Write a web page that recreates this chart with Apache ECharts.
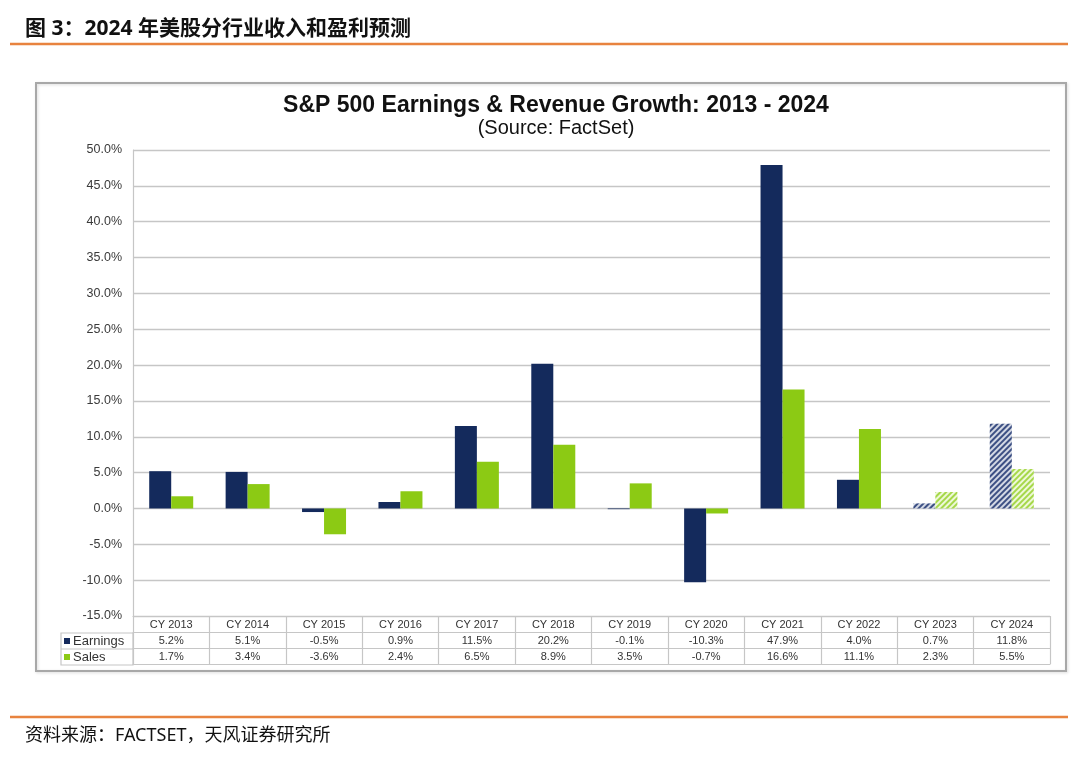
<!DOCTYPE html>
<html>
<head>
<meta charset="utf-8">
<script src="https://cdn.jsdelivr.net/npm/echarts@6/dist/echarts.min.js"></script>
<style>
html,body{margin:0;padding:0;background:#fff;}
#c{width:1080px;height:758px;}
</style>
</head>
<body>
<div id="c"></div>
<script>
const categories = ['CY 2013','CY 2014','CY 2015','CY 2016','CY 2017','CY 2018','CY 2019','CY 2020','CY 2021','CY 2022','CY 2023','CY 2024'];
const earnings = [5.2, 5.1, -0.5, 0.9, 11.5, 20.2, -0.1, -10.3, 47.9, 4.0, 0.7, 11.8];
const sales = [1.7, 3.4, -3.6, 2.4, 6.5, 8.9, 3.5, -0.7, 16.6, 11.1, 2.3, 5.5];
const estimateFrom = 10; // CY 2023 and CY 2024 are estimates (hatched)
const yTicks = {min: -15, max: 50, interval: 5};

const NAVY = '#142a5c';
const GREEN = '#8cca14';
const GRID = '#c6c6c6';
const FONT = '"Liberation Sans", Arial, sans-serif';
const CJK = '"Noto Sans", "Noto Sans CJK SC", sans-serif';

function hatched(base, stripe) {
  return {
    color: base,
    decal: {symbol: 'rect', symbolSize: 1, color: stripe, dashArrayX: [1, 0], dashArrayY: [1.5, 1.5], rotation: -Math.PI / 4}
  };
}
const earnData = earnings.map((v, i) => i >= estimateFrom ? {value: v, itemStyle: hatched('#d3d8e4', '#3d5084')} : v);
const salesData = sales.map((v, i) => i >= estimateFrom ? {value: v, itemStyle: hatched('#eef8d8', '#a6d84a')} : v);

const pct = v => v.toFixed(1) + '%';

function tableAxis(offset, values, showLabel, showTick) {
  return {
    type: 'category', data: categories, position: 'bottom', offset: offset,
    axisLine: {show: true, onZero: false, lineStyle: {color: GRID, width: 1.2}},
    axisTick: {show: showTick, length: 16, lineStyle: {color: GRID, width: 1.2}},
    axisLabel: {show: showLabel, margin: 3, fontSize: 11, color: '#333', fontFamily: FONT,
      formatter: (val, idx) => values ? pct(values[idx]) : val},
    splitLine: {show: false}
  };
}

const chart = echarts.init(document.getElementById('c'), null, {renderer: 'canvas'});
chart.setOption({
  animation: false,
  backgroundColor: '#fff',
  title: [
    {text: '图 3：2024 年美股分行业收入和盈利预测', left: 25, top: 19, padding: 0,
      textStyle: {fontFamily: CJK, fontSize: 21, fontWeight: 'bold', color: '#111'}},
    {text: 'S&P 500 Earnings & Revenue Growth: 2013 - 2024', left: 551, top: 89, textAlign: 'center',
      textStyle: {fontFamily: FONT, fontSize: 23, fontWeight: 'bold', color: '#111'}},
    {text: '(Source: FactSet)', left: 551, top: 113, textAlign: 'center',
      textStyle: {fontFamily: FONT, fontSize: 20, fontWeight: 'normal', color: '#111'}},
    {text: '资料来源：FACTSET，天风证券研究所', left: 25, top: 727, padding: 0,
      textStyle: {fontFamily: CJK, fontSize: 18, fontWeight: 'normal', color: '#111'}}
  ],
  legend: {
    data: ['Earnings', 'Sales'], orient: 'vertical', left: 64, top: 633,
    icon: 'rect', itemWidth: 6, itemHeight: 6, itemGap: 0,
    textStyle: {fontFamily: FONT, fontSize: 13, color: '#333', lineHeight: 16, padding: [0, 0, 0, -2]},
    padding: 0
  },
  grid: {left: 133, right: 30, top: 150, bottom: 142, containLabel: false},
  xAxis: [
    tableAxis(0, null, true, true),
    tableAxis(16, earnings, true, true),
    tableAxis(32, sales, true, true),
    tableAxis(48, null, false, false)
  ],
  yAxis: {
    type: 'value', min: yTicks.min, max: yTicks.max, interval: yTicks.interval,
    axisLine: {show: true, lineStyle: {color: GRID, width: 1.2}},
    axisTick: {show: false},
    axisLabel: {formatter: pct, fontSize: 12.5, color: '#3a3a3a', fontFamily: FONT, margin: 11},
    splitLine: {lineStyle: {color: GRID, width: 1.4}}
  },
  series: [
    {name: 'Earnings', type: 'bar', data: earnData, barWidth: 22, barGap: '0%', itemStyle: {color: NAVY}},
    {name: 'Sales', type: 'bar', data: salesData, barWidth: 22, barGap: '0%', itemStyle: {color: GREEN}}
  ],
  graphic: [
    {type: 'line', shape: {x1: 10, y1: 44, x2: 1068, y2: 44}, style: {stroke: '#e8833f', lineWidth: 2.5}},
    {type: 'line', shape: {x1: 10, y1: 717, x2: 1068, y2: 717}, style: {stroke: '#e8833f', lineWidth: 2.5}},
    {type: 'rect', shape: {x: 36, y: 83, width: 1030, height: 588},
      style: {fill: 'none', stroke: '#a8a8a8', lineWidth: 2, shadowColor: 'rgba(0,0,0,0.15)', shadowBlur: 3, shadowOffsetX: 1, shadowOffsetY: 1}},
    {type: 'rect', shape: {x: 61, y: 633, width: 72, height: 32}, style: {fill: 'none', stroke: GRID, lineWidth: 1.2}},
    {type: 'line', shape: {x1: 61, y1: 649, x2: 133, y2: 649}, style: {stroke: GRID, lineWidth: 1.2}}
  ]
});
</script>
</body>
</html>
